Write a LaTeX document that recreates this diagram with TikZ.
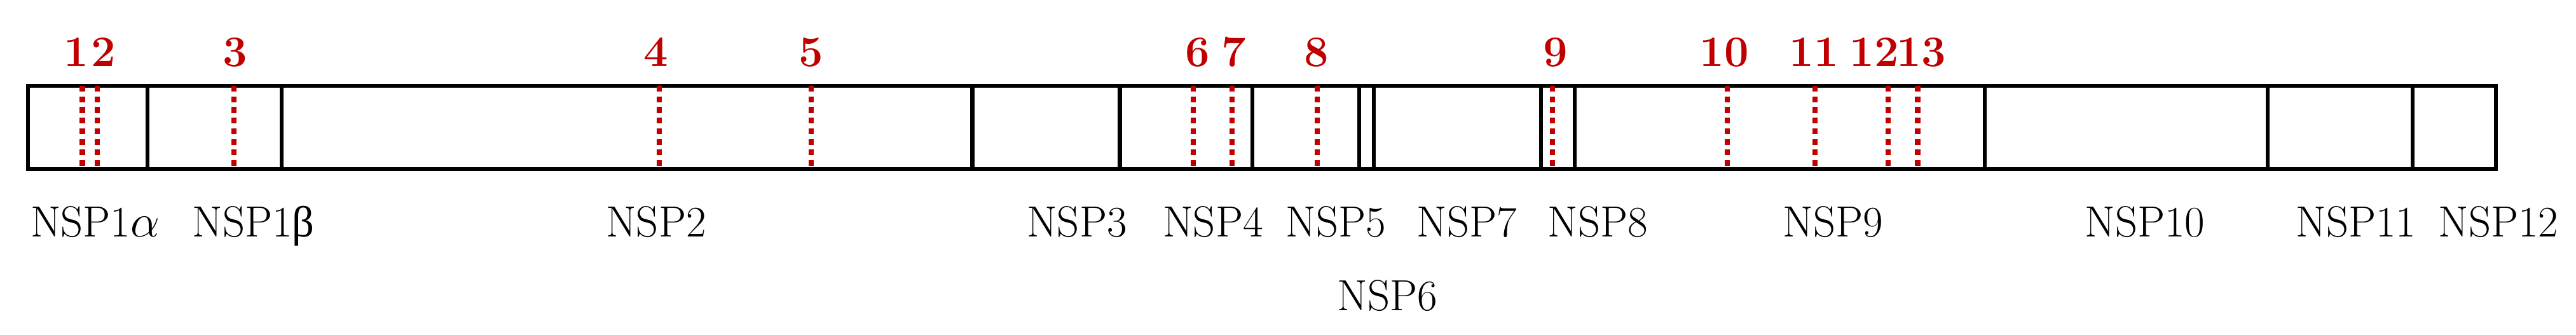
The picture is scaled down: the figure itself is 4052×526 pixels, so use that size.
\documentclass[tikz,border=0pt]{standalone}
\usepackage{fontspec}
\newfontfamily\grkfont{Liberation Serif}
\definecolor{sitered}{RGB}{192,0,0}
\begin{document}
\begin{tikzpicture}[x=0.01cm,y=-0.01cm,
	dom/.style={line width=1.85pt},
	site/.style={sitered,line width=2.5pt,dash pattern=on 2.6pt off 2.15pt},
	num/.style={sitered,anchor=base,inner sep=0pt,font=\fontsize{19.5}{23}\selectfont\bfseries},
	lab/.style={anchor=base,inner sep=0pt,font=\fontsize{19.5}{23}\selectfont}]
	\useasboundingbox (0,0) rectangle (4052,526);
	\draw[dom] (44,135) rectangle (3926,266);
	\foreach \x in {232,443,1529.5,1761.5,1970,2138,2161,2424,2477,3122,3567,3795}
		\draw[dom] (\x,135)--(\x,266);
	\foreach \x/\n/\t in {129.7/1/120,153/2/162.5,368/3/370,1037/4/1032,1276/5/1276,1877/6/1883.6,1938/7/1940.7,2072/8/2071,2442/9/2447,2717/10/2712,2855/11/2853,2970/12/2948,3016.5/13/3022}{
		\coordinate (t\n) at (\x,135);
		\coordinate (b\n) at (\x,266);
		\draw[site] (t\n)--(b\n);
		\node[num] (s\n) at (\t,104.5) {\n};
	}
	\node[lab] (nsp1a) at (149.5,372) {NSP1$\alpha$};
	\node[lab] (nsp1b) at (398.5,372) {NSP1{\grkfont β}};
	\node[lab] (nsp2) at (1032,372) {NSP2};
	\node[lab] (nsp3) at (1694,372) {NSP3};
	\node[lab] (nsp4) at (1908,372) {NSP4};
	\node[lab] (nsp5) at (2101,372) {NSP5};
	\node[lab] (nsp6) at (2182,488.3) {NSP6};
	\node[lab] (nsp7) at (2307,372) {NSP7};
	\node[lab] (nsp8) at (2513,372) {NSP8};
	\node[lab] (nsp9) at (2883,372) {NSP9};
	\node[lab] (nsp10) at (3374,372) {NSP10};
	\node[lab] (nsp11) at (3706,372) {NSP11};
	\node[lab] (nsp12) at (3930,372) {NSP12};
\end{tikzpicture}
\end{document}
